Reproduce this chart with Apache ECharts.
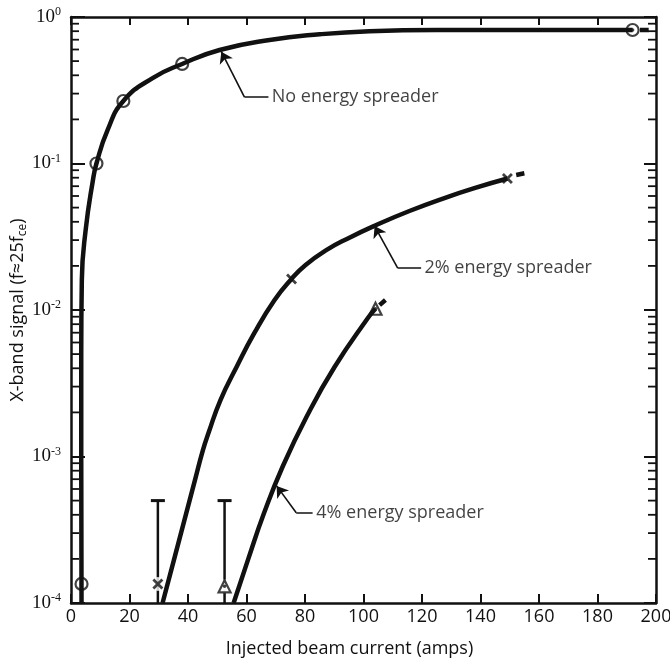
<!DOCTYPE html>
<html>
<head>
<meta charset="utf-8">
<script src="https://cdn.jsdelivr.net/npm/echarts/dist/echarts.min.js"></script>
<style>
  html, body { margin: 0; background: #fff; }
  #main { width: 670px; height: 660px; }
</style>
</head>
<body>
<div id="main"></div>
<script>
// values: [injected beam current (amps), X-band signal]
const noSpreaderCurve = [
  [3.6, 1e-4], [3.5, 1e-3], [3.5, 0.005], [3.7, 0.016], [5.0, 0.035], [7.5, 0.077],
  [8.7, 0.1], [12.5, 0.169], [17.9, 0.267], [27.9, 0.383], [38, 0.478], [50.8, 0.595],
  [67.9, 0.697], [85, 0.762], [102, 0.8], [125, 0.815], [160, 0.815], [192, 0.815]
]
const noSpreaderPoints = [[3.6, 1.35e-4], [8.7, 0.1], [17.9, 0.267], [38, 0.478], [192, 0.815]]
const noSpreaderTail = [[194.5, 0.815], [197.5, 0.815]]

const twoPctCurve = [
  [31.3, 1e-4], [35.2, 1.97e-4], [38.8, 3.69e-4], [42.4, 6.92e-4], [45.1, 1.107e-3],
  [47.0, 1.445e-3], [51.1, 2.43e-3], [56.6, 4.08e-3], [62.7, 6.97e-3], [69.6, 0.0117],
  [75.4, 0.0163], [80.2, 0.0203], [87.4, 0.0257], [94.5, 0.0307], [103.8, 0.0376],
  [115.7, 0.0474], [128.4, 0.0588], [137.9, 0.0679], [149.2, 0.079]
]
const twoPctPoints = [[29.7, 1.35e-4], [75.4, 0.0163], [149.2, 0.079]]
const twoPctTail = [[152.2, 0.0835], [155, 0.0857]]

const fourPctCurve = [
  [55.6, 1e-4], [60.5, 1.97e-4], [66.0, 4.11e-4], [72.3, 8.48e-4], [80.5, 1.862e-3],
  [90.1, 4.08e-3], [101.5, 8.82e-3], [104.1, 0.0102]
]
const fourPctPoints = [[52.5, 1.3e-4], [104.1, 0.0102]]
const fourPctTail = [[105.5, 0.0108], [107.5, 0.0117]]

// threshold bars: [current, low, high]
const errorBars = [[29.7, 1e-4, 5e-4], [52.5, 1e-4, 5e-4]]

// leader lines: arrow tip, elbow, end next to the label
const leaderTips = [[51.4, 0.58], [103.8, 0.0374], [70.3, 6.3e-4]]
const leaderElbows = [[59.3, 0.284], [111.7, 0.0193], [77, 4.13e-4]]
const leaderEnds = [[67.5, 0.284], [119.7, 0.0193], [82.6, 4.13e-4]]
const labelTexts = ['No energy spreader', '2% energy spreader', '4% energy spreader']
const labelAnchors = [[67.8, 0.284], [120, 0.0193], [83, 4.13e-4]]

const decades = [1e-4, 1e-3, 1e-2, 1e-1]
const minorSteps = [2, 3, 4, 5, 6, 7, 8, 9]
const minorTicks = []
decades.forEach(d => minorSteps.forEach(m => minorTicks.push([0, m * d])))

const ink = '#111'
const font = 'Open Sans'

const chart = echarts.init(document.getElementById('main'))

const axisBase = {
  axisLine: { show: true, onZero: false, lineStyle: { color: ink, width: 2.5 } },
  splitLine: { show: false },
}

const option = {
  animation: false,
  backgroundColor: '#fff',
  grid: { left: 71, right: 14, top: 17, bottom: 57, outerBoundsMode: 'none' },
  xAxis: [
    {
      ...axisBase,
      type: 'value', min: 0, max: 200, interval: 20, position: 'bottom',
      axisTick: { inside: true, length: 9, lineStyle: { color: ink, width: 2 } },
      axisLabel: { color: ink, fontSize: 18, fontFamily: font, margin: 5 },
      name: 'Injected beam current (amps)',
      nameLocation: 'middle',
      nameGap: 37,
      nameTextStyle: { color: ink, fontSize: 18, fontFamily: font, padding: [0, 28, 0, 0] },
    },
    {
      ...axisBase,
      type: 'value', min: 0, max: 200, interval: 20, position: 'top',
      axisTick: { inside: true, length: 8, lineStyle: { color: ink, width: 2 } },
      axisLabel: { show: false },
    },
  ],
  yAxis: [
    {
      ...axisBase,
      type: 'log', logBase: 10, min: 1e-4, max: 1, position: 'left',
      axisTick: { inside: true, length: 14, lineStyle: { color: ink, width: 2 } },
      axisLabel: {
        margin: 10,
        formatter: v => '{b|10}{s|' + Math.round(Math.log10(v)) + '}',
        rich: {
          b: { fontSize: 19, fontFamily: 'Liberation Serif', color: ink, lineHeight: 22 },
          s: { fontSize: 12, fontFamily: 'Liberation Serif', color: ink, verticalAlign: 'top', lineHeight: 12 },
        },
      },
      name: 'X-band signal (f≈25f{sub|ce})',
      nameLocation: 'middle',
      nameGap: 42,
      nameMoveOverlap: false,
      nameRotate: 90,
      nameTextStyle: {
        color: ink, fontSize: 18, fontFamily: font, lineHeight: 22,
        rich: { sub: { fontSize: 12, fontFamily: font, color: ink, verticalAlign: 'bottom', lineHeight: 16 } },
      },
    },
    {
      ...axisBase,
      type: 'log', logBase: 10, min: 1e-4, max: 1, position: 'right',
      axisTick: { inside: true, length: 12, lineStyle: { color: ink, width: 2 } },
      axisLabel: { show: false },
    },
  ],
  series: [
    {
      type: 'custom',
      data: minorTicks,
      clip: false,
      silent: true,
      z: 5,
      renderItem: (params, api) => {
        const v = api.value(1)
        const l = api.coord([0, v])
        const r = api.coord([200, v])
        return {
          type: 'group',
          children: [
            { type: 'line', shape: { x1: l[0], y1: l[1], x2: l[0] + 8, y2: l[1] }, style: { stroke: ink, lineWidth: 1.8 } },
            { type: 'line', shape: { x1: r[0], y1: r[1], x2: r[0] - 8, y2: r[1] }, style: { stroke: ink, lineWidth: 1.8 } },
          ],
        }
      },
    },
    {
      type: 'line', data: noSpreaderCurve, showSymbol: false, smooth: 0.5,
      lineStyle: { color: ink, width: 4.5 },
    },
    {
      type: 'line', data: twoPctCurve, showSymbol: false, smooth: 0.5,
      lineStyle: { color: ink, width: 4.5 },
    },
    {
      type: 'line', data: fourPctCurve, showSymbol: false, smooth: 0.5,
      lineStyle: { color: ink, width: 4.5 },
    },
    ...[noSpreaderTail, twoPctTail, fourPctTail].map(t => ({
      type: 'line', data: t, showSymbol: false, lineStyle: { color: ink, width: 4.5 },
    })),
    {
      type: 'custom',
      data: errorBars,
      encode: { x: 0, y: [1, 2] },
      renderItem: (params, api) => {
        const lo = api.coord([api.value(0), api.value(1)])
        const hi = api.coord([api.value(0), api.value(2)])
        return {
          type: 'group',
          children: [
            { type: 'line', shape: { x1: lo[0], y1: lo[1], x2: hi[0], y2: hi[1] }, style: { stroke: ink, lineWidth: 2.5 } },
            { type: 'line', shape: { x1: hi[0] - 7, y1: hi[1], x2: hi[0] + 7, y2: hi[1] }, style: { stroke: ink, lineWidth: 3 } },
          ],
        }
      },
    },
    {
      type: 'lines',
      coordinateSystem: 'cartesian2d',
      symbol: ['arrow', 'none'],
      symbolSize: 11,
      lineStyle: { color: ink, width: 1.6, opacity: 1 },
      data: leaderTips.map((t, i) => ({ coords: [t, leaderElbows[i]] })),
    },
    {
      type: 'lines',
      coordinateSystem: 'cartesian2d',
      symbol: 'none',
      lineStyle: { color: ink, width: 1.6, opacity: 1 },
      data: leaderElbows.map((e, i) => ({ coords: [e, leaderEnds[i]] })),
    },
    // white knock-outs so the curves break around the markers
    {
      type: 'scatter', data: twoPctPoints.concat(fourPctPoints), symbol: 'circle', symbolSize: 14,
      itemStyle: { color: '#fff' },
    },
    {
      type: 'scatter', data: noSpreaderPoints, symbol: 'circle', symbolSize: 12,
      itemStyle: { color: '#fff', borderColor: ink, borderWidth: 2.2 },
    },
    {
      type: 'scatter', data: twoPctPoints, symbolSize: 11,
      symbol: 'path://M0,1.8 L1.8,0 L5,3.2 L8.2,0 L10,1.8 L6.8,5 L10,8.2 L8.2,10 L5,6.8 L1.8,10 L0,8.2 L3.2,5 Z',
      itemStyle: { color: ink },
    },
    {
      type: 'scatter', data: fourPctPoints, symbol: 'triangle', symbolSize: 12,
      itemStyle: { color: '#fff', borderColor: ink, borderWidth: 2.2 },
    },
    {
      type: 'scatter', data: noSpreaderPoints.concat(fourPctPoints), symbol: 'circle', symbolSize: 3.5,
      itemStyle: { color: ink },
    },
    {
      type: 'scatter',
      symbolSize: 1,
      itemStyle: { color: 'rgba(0,0,0,0)' },
      data: labelAnchors.map((a, i) => ({ name: labelTexts[i], value: a })),
      label: {
        show: true, position: 'right', distance: 2, formatter: p => p.name,
        color: ink, fontSize: 18, fontFamily: font,
      },
    },
  ],
}

chart.setOption(option)
</script>
</body>
</html>
